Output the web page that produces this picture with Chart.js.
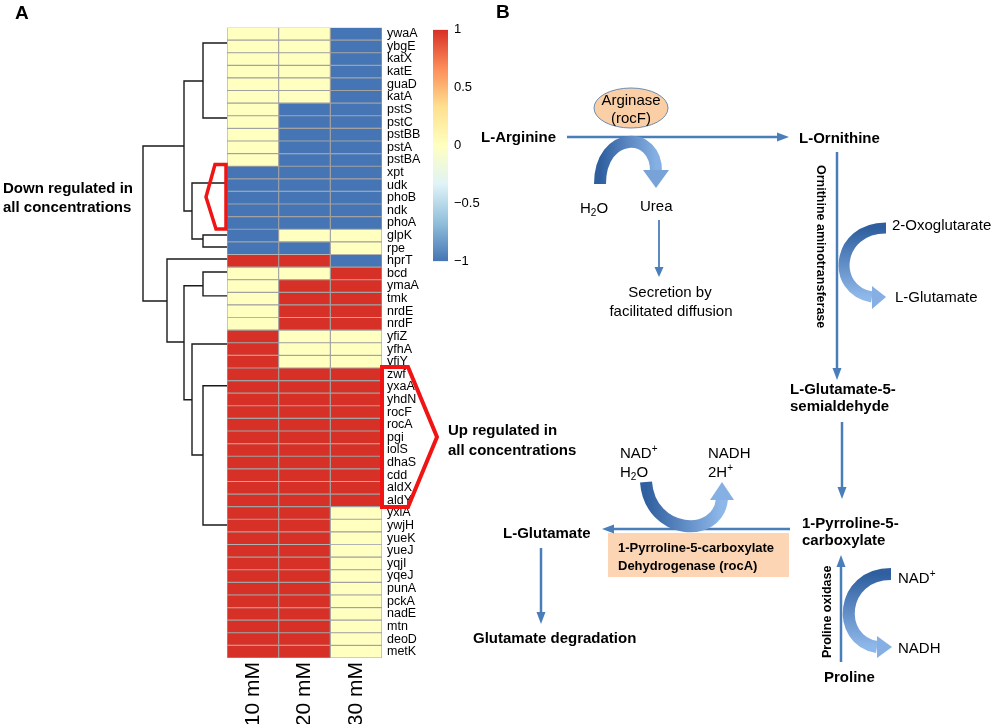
<!DOCTYPE html>
<html>
<head>
<meta charset="utf-8">
<script src="https://cdn.jsdelivr.net/npm/chart.js@4.4.1/dist/chart.umd.min.js"></script>
<style>
  body { margin: 0; background: #fff; width: 1000px; height: 724px; overflow: hidden; position: relative;
         font-family: "Liberation Sans", Arial, Helvetica, sans-serif; }
  canvas { position: absolute; }
  #heat { left: 220px; top: 15px; }
  #dendro { left: 133px; top: 15px; }
  #scale { left: 423px; top: 16px; }
  #overlay { position: absolute; left: 0; top: 0; }
  .b { font-weight: bold; font-size: 15px; }
  .r { font-size: 15px; }
</style>
</head>
<body>
<canvas id="dendro" width="104" height="709"></canvas>
<canvas id="heat" width="222" height="709"></canvas>
<canvas id="scale" width="67" height="259"></canvas>

<svg id="overlay" width="1000" height="724" font-family="Liberation Sans, Arial, Helvetica, sans-serif">
  <defs>
    <linearGradient id="gArg" x1="0" y1="0" x2="1" y2="0">
      <stop offset="0" stop-color="#2f5f9f"/><stop offset="1" stop-color="#86b0e3"/>
    </linearGradient>
    <linearGradient id="gVert" x1="0" y1="0" x2="0" y2="1">
      <stop offset="0" stop-color="#2f5f9f"/><stop offset="1" stop-color="#8fb8ea"/>
    </linearGradient>
    <linearGradient id="gNad" x1="0" y1="0" x2="1" y2="0">
      <stop offset="0" stop-color="#2f5f9f"/><stop offset="1" stop-color="#8fb8ea"/>
    </linearGradient>
  </defs>

  <!-- panel letters -->
  <text x="15" y="19" font-weight="bold" font-size="19">A</text>
  <text x="496" y="18" font-weight="bold" font-size="19">B</text>

  <!-- heatmap annotations -->
  <polygon points="215,164.5 226,164.5 226,229 216,229 206,197" fill="none" stroke="#f01414" stroke-width="3.5" stroke-linejoin="miter"/>
  <polygon points="382,367 408,367 437,437 408,507 382,507" fill="none" stroke="#f01414" stroke-width="4" stroke-linejoin="miter"/>
  <text class="b" x="3" y="193">Down regulated in</text>
  <text class="b" x="3" y="212">all concentrations</text>
  <text class="b" x="448" y="435">Up regulated in</text>
  <text class="b" x="448" y="455">all concentrations</text>

  <!-- panel B: arginine to ornithine -->
  <text class="b" x="481" y="142">L-Arginine</text>
  <text class="b" x="799" y="143">L-Ornithine</text>
  <line x1="567" y1="137" x2="778" y2="137" stroke="#4a7ebb" stroke-width="2.5"/>
  <polygon points="777,132.5 789,137 777,141.5" fill="#4a7ebb"/>
  <path d="M 600 184 C 600 130, 657 130, 656 172" fill="none" stroke="url(#gArg)" stroke-width="12"/>
  <polygon points="643,170 669,170 656,188" fill="#78a3d8"/>
  <ellipse cx="631" cy="108" rx="37" ry="20" fill="#fbcfa6" stroke="#6b8bb5" stroke-width="1"/>
  <text class="r" x="631" y="105" text-anchor="middle">Arginase</text>
  <text class="r" x="631" y="123" text-anchor="middle">(rocF)</text>
  <text class="r" x="580" y="213">H<tspan font-size="10" dy="3">2</tspan><tspan dy="-3">O</tspan></text>
  <text class="r" x="640" y="211">Urea</text>
  <line x1="659" y1="220" x2="659" y2="268" stroke="#4a7ebb" stroke-width="1.8"/>
  <polygon points="654.5,267 663.5,267 659,277" fill="#4a7ebb"/>
  <text class="r" x="670" y="297" text-anchor="middle">Secretion by</text>
  <text class="r" x="671" y="316" text-anchor="middle">facilitated diffusion</text>

  <!-- ornithine to semialdehyde -->
  <line x1="837" y1="152" x2="837" y2="369" stroke="#4a7ebb" stroke-width="2.5"/>
  <polygon points="832.5,368 841.5,368 837,380" fill="#4a7ebb"/>
  <text x="817" y="165" font-weight="bold" font-size="12.5" transform="rotate(90 817 165)">Ornithine aminotransferase</text>
  <path d="M 886 228 C 836 228, 830 290, 872 297" fill="none" stroke="url(#gVert)" stroke-width="11"/>
  <polygon points="872,286 872,309 886,297" fill="#86b0e3"/>
  <text class="r" x="892" y="230">2-Oxoglutarate</text>
  <text class="r" x="895" y="302">L-Glutamate</text>
  <text class="b" x="790" y="394">L-Glutamate-5-</text>
  <text class="b" x="790" y="411">semialdehyde</text>
  <line x1="842" y1="422" x2="842" y2="488" stroke="#4a7ebb" stroke-width="2.5"/>
  <polygon points="837.5,487 846.5,487 842,499" fill="#4a7ebb"/>

  <!-- P5C -->
  <text class="b" x="802" y="528">1-Pyrroline-5-</text>
  <text class="b" x="802" y="545">carboxylate</text>
  <line x1="841" y1="662" x2="841" y2="566" stroke="#4a7ebb" stroke-width="2.5"/>
  <polygon points="836.5,567 845.5,567 841,555" fill="#4a7ebb"/>
  <text x="831" y="658" font-weight="bold" font-size="12.5" transform="rotate(-90 831 658)">Proline oxidase</text>
  <path d="M 891 574 C 840 574, 835 640, 877 647" fill="none" stroke="url(#gVert)" stroke-width="12"/>
  <polygon points="877,636 877,658 892,647" fill="#86b0e3"/>
  <text class="r" x="898" y="583">NAD<tspan font-size="10" dy="-6">+</tspan></text>
  <text class="r" x="898" y="653">NADH</text>
  <text class="b" x="824" y="682">Proline</text>

  <!-- P5C to glutamate -->
  <rect x="608" y="533" width="181" height="44" fill="#fcd5b4"/>
  <text x="618" y="552" font-weight="bold" font-size="13">1-Pyrroline-5-carboxylate</text>
  <text x="618" y="570" font-weight="bold" font-size="13">Dehydrogenase (rocA)</text>
  <line x1="790" y1="529" x2="613" y2="529" stroke="#4a7ebb" stroke-width="2.5"/>
  <polygon points="614,524.5 614,533.5 602,529" fill="#4a7ebb"/>
  <path d="M 646 482 C 650 535, 718 540, 722 499" fill="none" stroke="url(#gNad)" stroke-width="12"/>
  <polygon points="710,500 734,500 722,482" fill="#86b0e3"/>
  <text class="r" x="620" y="458">NAD<tspan font-size="10" dy="-6">+</tspan></text>
  <text class="r" x="620" y="477">H<tspan font-size="10" dy="3">2</tspan><tspan dy="-3">O</tspan></text>
  <text class="r" x="708" y="458">NADH</text>
  <text class="r" x="708" y="477">2H<tspan font-size="10" dy="-6">+</tspan></text>
  <text class="b" x="503" y="538">L-Glutamate</text>
  <line x1="541" y1="548" x2="541" y2="613" stroke="#4a7ebb" stroke-width="2.5"/>
  <polygon points="536.5,612 545.5,612 541,624" fill="#4a7ebb"/>
  <text class="b" x="473" y="643">Glutamate degradation</text>
</svg>

<script>
// genes in heatmap order (top to bottom)
const genes = ['ywaA', 'ybgE', 'katX', 'katE', 'guaD', 'katA', 'pstS', 'pstC', 'pstBB', 'pstA', 'pstBA',
  'xpt', 'udk', 'phoB', 'ndk', 'phoA', 'glpK', 'rpe', 'hprT', 'bcd', 'ymaA', 'tmk', 'nrdE', 'nrdF',
  'yfiZ', 'yfhA', 'yfiY', 'zwf', 'yxaA', 'yhdN', 'rocF', 'rocA', 'pgi', 'iolS', 'dhaS', 'cdd', 'aldX', 'aldY',
  'yxlA', 'ywjH', 'yueK', 'yueJ', 'yqjI', 'yqeJ', 'punA', 'pckA', 'nadE', 'mtn', 'deoD', 'metK'];
const concentrations = ['10 mM', '20 mM', '30 mM'];

// scaled expression per concentration (-1 down, 0 unchanged, 1 up)
const fc10 = [0, 0, 0, 0, 0, 0, 0, 0, 0, 0, 0, -1, -1, -1, -1, -1, -1, -1, 1, 0, 0, 0, 0, 0,
  1, 1, 1, 1, 1, 1, 1, 1, 1, 1, 1, 1, 1, 1, 1, 1, 1, 1, 1, 1, 1, 1, 1, 1, 1, 1];
const fc20 = [0, 0, 0, 0, 0, 0, -1, -1, -1, -1, -1, -1, -1, -1, -1, -1, 0, -1, 1, 0, 1, 1, 1, 1,
  0, 0, 0, 1, 1, 1, 1, 1, 1, 1, 1, 1, 1, 1, 1, 1, 1, 1, 1, 1, 1, 1, 1, 1, 1, 1];
const fc30 = [-1, -1, -1, -1, -1, -1, -1, -1, -1, -1, -1, -1, -1, -1, -1, -1, 0, 0, -1, 1, 1, 1, 1, 1,
  0, 0, 0, 1, 1, 1, 1, 1, 1, 1, 1, 1, 1, 1, 0, 0, 0, 0, 0, 0, 0, 0, 0, 0, 0, 0];

// colour key
const scaleTicks = [1, 0.5, 0, -0.5, -1];
const paletteValues = [-1, -0.667, -0.333, 0, 0.333, 0.667, 1];
const paletteColors = ['#4575b4', '#91bfdb', '#e0f3f8', '#ffffbf', '#fee090', '#fc8d59', '#d73027'];

// row dendrogram: vertical at height h from row y1 to y2, branches to child heights c1 / c2
const dendroLinks = [
  { h: 8.4, y1: 9.06, y2: 21.3, c1: 4.3, c2: 6.0 },
  { h: 4.3, y1: 3.92, y2: 14.19, c1: 2.4, c2: 3.5 },
  { h: 2.4, y1: 0.92, y2: 6.85, c1: 0, c2: 0 },
  { h: 3.5, y1: 11.98, y2: 16.4, c1: 0, c2: 2.4 },
  { h: 2.4, y1: 16.09, y2: 17.04, c1: 0, c2: 0 },
  { h: 6.0, y1: 17.98, y2: 24.54, c1: 0, c2: 4.3 },
  { h: 4.3, y1: 20.1, y2: 29.1, c1: 2.4, c2: 3.5 },
  { h: 2.4, y1: 19.01, y2: 20.9, c1: 0, c2: 0 },
  { h: 3.5, y1: 24.7, y2: 33.47, c1: 0, c2: 2.4 },
  { h: 2.4, y1: 28.0, y2: 39.0, c1: 0, c2: 0 }
];

const family = '"Liberation Sans", Arial, Helvetica, sans-serif';

function hexToRgb(h) {
  return [parseInt(h.slice(1, 3), 16), parseInt(h.slice(3, 5), 16), parseInt(h.slice(5, 7), 16)];
}

function cellColor(v) {
  for (let i = 0; i < paletteValues.length - 1; i++) {
    if (v <= paletteValues[i + 1]) {
      const t = (v - paletteValues[i]) / (paletteValues[i + 1] - paletteValues[i]);
      const a = hexToRgb(paletteColors[i]), b = hexToRgb(paletteColors[i + 1]);
      const c = a.map((x, k) => Math.round(x + (b[k] - x) * Math.max(0, Math.min(1, t))));
      return 'rgb(' + c.join(',') + ')';
    }
  }
  return paletteColors[paletteColors.length - 1];
}

function minusFmt(v) {
  return v < 0 ? '\u2212' + Math.abs(v) : String(v);
}

// Heatmap
const columns = [fc10, fc20, fc30];
new Chart(document.getElementById('heat'), {
  type: 'bar',
  data: {
    labels: genes,
    datasets: concentrations.map((c, j) => ({
      label: c,
      data: genes.map(() => 1),
      backgroundColor: columns[j].map(cellColor),
      borderColor: '#a2a2a2',
      borderWidth: 0.9,
      borderSkipped: false,
      barPercentage: 1,
      categoryPercentage: 1
    }))
  },
  options: {
    indexAxis: 'y',
    responsive: false,
    animation: false,
    layout: { padding: { left: 7, top: 10, right: 0, bottom: 0 } },
    plugins: { legend: { display: false }, tooltip: { enabled: false } },
    scales: {
      x: {
        type: 'linear', stacked: true, min: 0, max: 3,
        grid: { display: false, drawTicks: false },
        border: { display: false },
        afterBuildTicks: a => { a.ticks = concentrations.map((c, i) => ({ value: i + 0.5 })); },
        ticks: {
          autoSkip: false, minRotation: 90, maxRotation: 90, padding: 4, color: '#000',
          font: { family: family, size: 21 },
          callback: v => concentrations[Math.floor(v)]
        },
        afterFit: a => { a.height = 66; }
      },
      y: {
        type: 'category', position: 'right', stacked: true,
        grid: { display: false, drawTicks: false },
        border: { display: false },
        ticks: { autoSkip: false, padding: 5, color: '#000', font: { family: family, size: 12.5 } },
        afterFit: a => { a.width = 60; }
      }
    }
  }
});

// Dendrogram
new Chart(document.getElementById('dendro'), {
  type: 'scatter',
  data: {
    datasets: dendroLinks.map(l => ({
      data: [{ x: l.c1, y: l.y1 }, { x: l.h, y: l.y1 }, { x: l.h, y: l.y2 }, { x: l.c2, y: l.y2 }],
      showLine: true,
      borderColor: '#1a1a1a',
      borderWidth: 1.4,
      pointRadius: 0,
      fill: false,
      clip: false
    }))
  },
  options: {
    responsive: false,
    animation: false,
    layout: { padding: { left: 10, right: 10, top: 10, bottom: 66 } },
    plugins: { legend: { display: false }, tooltip: { enabled: false } },
    scales: {
      x: { type: 'linear', min: 0, max: 8.4, reverse: true, display: false },
      y: { type: 'linear', min: -0.5, max: 49.5, reverse: true, display: false }
    }
  }
});

// Colour key
new Chart(document.getElementById('scale'), {
  type: 'bar',
  data: {
    labels: [''],
    datasets: [{
      data: [[-1, 1]],
      borderWidth: 0,
      barPercentage: 1,
      categoryPercentage: 1,
      backgroundColor: ctx => {
        const area = ctx.chart.chartArea;
        if (!area) return paletteColors[3];
        const g = ctx.chart.ctx.createLinearGradient(0, area.bottom, 0, area.top);
        paletteValues.forEach((v, i) => g.addColorStop((v + 1) / 2, paletteColors[i]));
        return g;
      }
    }]
  },
  options: {
    responsive: false,
    animation: false,
    layout: { padding: { left: 10, top: 10, bottom: 10, right: 0 } },
    plugins: { legend: { display: false }, tooltip: { enabled: false } },
    scales: {
      x: { display: false },
      y: {
        min: -1, max: 1, position: 'right',
        grid: { display: false, drawTicks: false },
        border: { display: false },
        afterBuildTicks: a => { a.ticks = scaleTicks.map(v => ({ value: v })); },
        ticks: { padding: 6, color: '#000', font: { family: family, size: 13 }, callback: v => minusFmt(v) },
        afterFit: a => { a.width = 42; }
      }
    }
  }
});
</script>
</body>
</html>
